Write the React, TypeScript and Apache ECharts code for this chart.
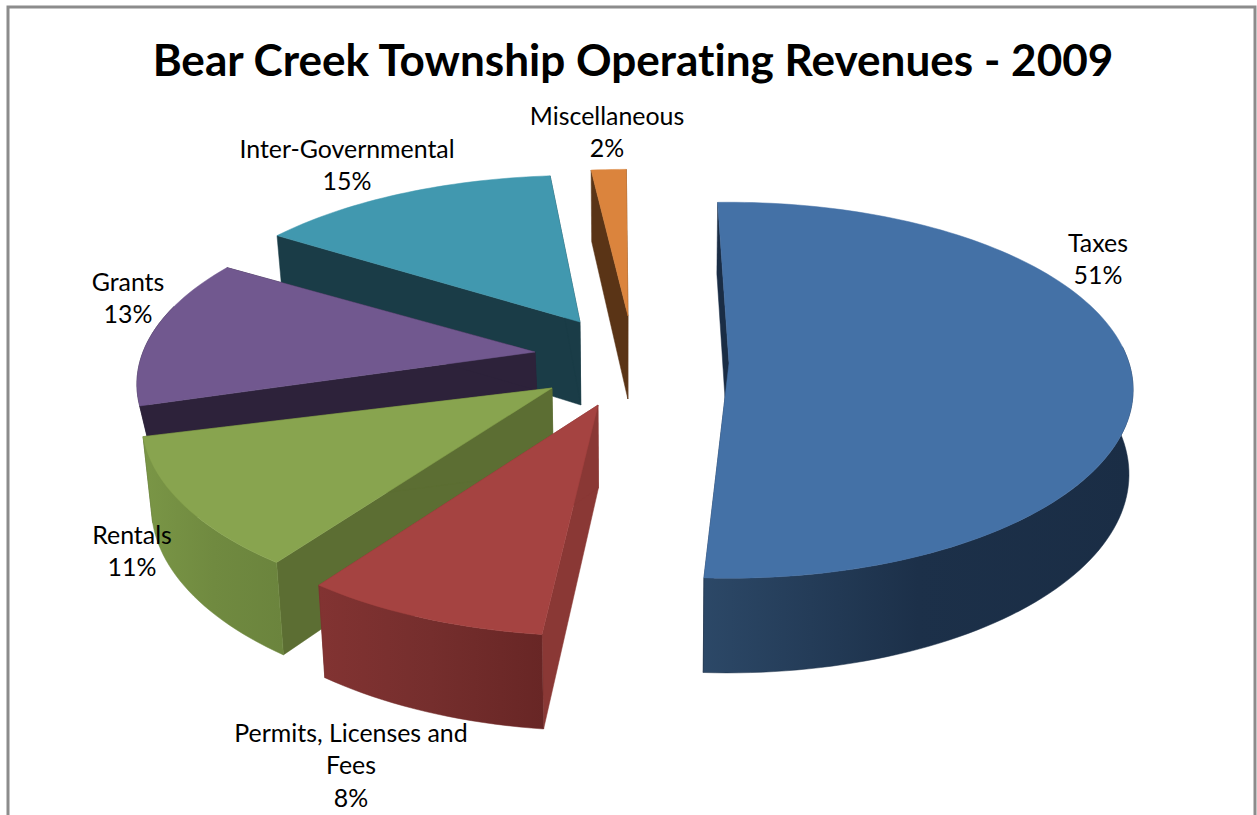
import React, { useEffect, useRef } from "react";
import * as echarts from "echarts";

const titleText = "Bear Creek Township Operating Revenues - 2009";
const categories = ["Taxes", "Permits, Licenses and Fees", "Rentals", "Grants", "Inter-Governmental", "Miscellaneous"];
const labelLines = ["Taxes", "Permits, Licenses and\nFees", "Rentals", "Grants", "Inter-Governmental", "Miscellaneous"];
// Shares in percent (labels show them rounded)
const values = [51.4, 8.2, 10.9, 12.9, 14.8, 1.8];

// Styles, one per category
const topColors = ["#4471a6", "#a54341", "#88a44f", "#71588f", "#4198af", "#db843d"];
const sideColors = ["#1a2d45", "#8a3835", "#5c6e33", "#2d223a", "#1a3c47", "#5a3416"];
const wallStops = [
  ["#2c4867", "#1c3049", "#1a2d45"],
  ["#823332", "#752e2d", "#682625"],
  ["#7a9646", "#708a40", "#6b843d"],
  ["#2d223a", "#2d223a", "#2d223a"],
  ["#1a3c47", "#1a3c47", "#1a3c47"],
  ["#5a3416", "#5a3416", "#5a3416"],
];
// Layout of the exploded 3D projection, one per category
const explode = [[99, -2], [-32, 40], [-78, 23], [-95, -13], [-50, -43], [-2, -49]];
const angleShift = [-0.4, 3, 3.5, 1.5, 2.5, 1.2];
const perspective = [0.145, 0.23, 0.18, 0.18, 0.22, 0.22];
const radiusScale = [1, 1, 1.01, 0.98, 1, 1];
const depthScale = [1, 1, 1, 0.46, 1, 1];
const converge = [0.008, 0.02, 0.02, 0.02, 0.02, 0.02];
const labelCenters = [[1098, 258], [351, 764], [132, 550], [128, 297], [347, 164], [607, 131]];
const drawOrder = [4, 5, 3, 2, 1, 0];
const CX = 630, CY = 365, R = 400, TILT = 0.47, DEPTH = 83, DEPTH_P = 0.14, VX = 620, START = -1.5;

const total = values.reduce((a, b) => a + b, 0);
const starts: number[] = [];
values.reduce((acc, v, i) => {
  starts[i] = acc + angleShift[i];
  return acc + (v / total) * 360;
}, START);

function top(i: number, deg: number, r: number): [number, number] {
  const a = (deg * Math.PI) / 180;
  const k = (1 - perspective[i] * Math.cos(a) * r) * radiusScale[i];
  return [
    CX + explode[i][0] + R * r * Math.sin(a) * k,
    CY + explode[i][1] - R * r * TILT * Math.cos(a) * k,
  ];
}
function low(i: number, deg: number, r: number): [number, number] {
  const a = (deg * Math.PI) / 180;
  const p = top(i, deg, r);
  return [p[0] + (VX - p[0]) * converge[i], p[1] + depthScale[i] * DEPTH * (1 - DEPTH_P * Math.cos(a) * r)];
}
function arc(i: number, from: number, to: number, f: (i: number, d: number, r: number) => [number, number]) {
  const out: [number, number][] = [];
  const n = Math.max(2, Math.ceil((to - from) / 1.5));
  for (let s = 0; s <= n; s++) out.push(f(i, from + ((to - from) * s) / n, 1));
  return out;
}

function renderSlice(_params: any, api: any) {
  const i = api.value(0) as number;
  const span = (api.value(1) / total) * 360;
  const s = starts[i], e = s + span;
  const poly = (points: number[][], fill: any) => ({
    type: "polygon",
    shape: { points },
    style: { fill, stroke: fill.colorStops ? fill.colorStops[1].color : fill, lineWidth: 0.5 },
    silent: true,
  });
  const children: any[] = [];
  [s, e].forEach((d) => {
    children.push(poly([top(i, d, 0), top(i, d, 1), low(i, d, 1), low(i, d, 0)], sideColors[i]));
  });
  const ws = Math.max(s, 85), we = Math.min(e, 285);
  if (we > ws) {
    const pts = [...arc(i, ws, we, top), ...arc(i, ws, we, low).reverse()];
    children.push(
      poly(pts, {
        type: "linear", x: 1, y: 0, x2: 0, y2: 0,
        colorStops: [0, 0.5, 1].map((o, j) => ({ offset: o, color: wallStops[i][2 - j] })),
      })
    );
  }
  children.push(poly([top(i, s, 0), ...arc(i, s, e, top)], topColors[i]));
  return { type: "group", children };
}

export default function App() {
  const ref = useRef<HTMLDivElement>(null);
  useEffect(() => {
    document.body.style.margin = "0";
    const chart = echarts.init(ref.current!, undefined, { renderer: "svg" });
    chart.setOption({
      animation: false,
      backgroundColor: "#ffffff",
      title: {
        text: titleText,
        left: 628,
        top: 31,
        textAlign: "center",
        textStyle: { fontFamily: "Lato", fontWeight: "bold", fontSize: 44.1, color: "#000000" },
      },
      series: [
        {
          type: "custom",
          coordinateSystem: "none",
          renderItem: renderSlice,
          data: drawOrder.map((i) => [i, values[i]]),
          silent: true,
        },
      ],
      graphic: [
        {
          type: "polyline",
          silent: true,
          shape: { points: [[8, 815], [8, 7], [1255, 7], [1255, 815]] },
          style: { stroke: "#8c8c8c", lineWidth: 3, fill: "none" },
        },
        ...categories.map((c, i) => ({
          type: "text",
          silent: true,
          z: 10,
          x: labelCenters[i][0],
          y: labelCenters[i][1],
          style: {
            text: `${labelLines[i]}\n${Math.round(values[i])}%`,
            fontFamily: "Lato",
            fontSize: 24.9,
            lineHeight: 32.5,
            fill: "#000000",
            align: "center",
            verticalAlign: "middle",
          },
        })),
      ],
    });
    return () => chart.dispose();
  }, []);
  return <div ref={ref} style={{ width: 1257, height: 815, fontVariantLigatures: "none" }} />;
}
